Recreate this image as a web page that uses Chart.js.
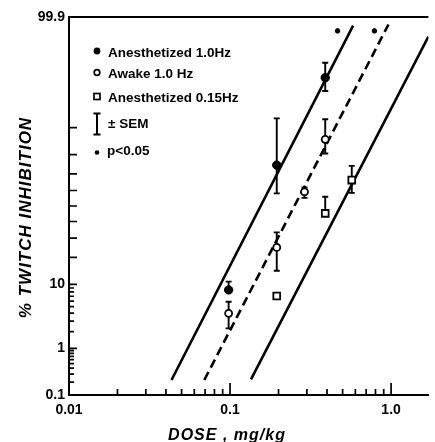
<!DOCTYPE html>
<html><head><meta charset="utf-8">
<script src="https://cdn.jsdelivr.net/npm/chart.js@4.4.0/dist/chart.umd.min.js"></script>
<style>html,body{margin:0;padding:0;background:#fff}#c{display:block}</style>
</head><body>
<canvas id="c" width="435" height="442"></canvas>
<script>
// ---------------- data ----------------
const xTickValues = [0.01,0.02,0.03,0.04,0.05,0.06,0.07,0.08,0.09,0.1,0.2,0.3,0.4,0.5,0.6,0.7,0.8,0.9,1.0];
const xMajorValues = [0.01,0.1,1.0];
const xLabelValues = [0.01,0.1,1.0];
const xLabelTexts = ['0.01','0.1','1.0'];

const yTickValues = [0.1,0.2,0.3,0.4,0.5,0.6,0.7,0.8,0.9,1,2,3,4,5,6,7,8,9,10,20,30,40,50,60,70,80,90,99.9];
const yMajorValues = [1,10,20,30,40,50,60,70,80,90];
const yLabelValues = [0.1,1,10,99.9];
const yLabelTexts = ['0.1','1','10','99.9'];

// Anesthetized 1.0 Hz (filled circles)
const anesDose = [0.098, 0.195, 0.39];
const anesPct  = [8.5, 74.8, 98.2];
const anesLow  = [8.5, 58.2, 97.0];
const anesHigh = [10.8, 92.4, 99.04];

// Awake 1.0 Hz (open circles)
const awakeDose = [0.098, 0.195, 0.29, 0.39];
const awakePct  = [3.96, 24.9, 59.2, 86.2];
const awakeLow  = [2.27, 14.5, 55.3, 80.5];
const awakeHigh = [5.87, 33.3, 61.9, 92.2];

// Anesthetized 0.15 Hz (open squares)
const slowDose = [0.195, 0.39, 0.57];
const slowPct  = [7.05, 45.2, 66.4];
const slowLow  = [6.5, 45.2, 58.5];
const slowHigh = [7.7, 56.0, 74.4];

// p < 0.05 markers
const sigDose = [0.465, 0.788];
const sigPct  = [99.79, 99.79];

// fitted log-probit lines (end points)
const fitAnesDose  = [0.0433, 0.581];
const fitAnesPct   = [0.222, 99.84];
const fitAwakeDose = [0.0692, 0.963];
const fitAwakePct  = [0.222, 99.85];
const fitSlowDose  = [0.1349, 1.705];
const fitSlowPct   = [0.23, 99.72];

const xMin = 0.01, xMax = 1.705, yMin = 0.1, yMax = 99.9;

// ---------------- probit scale ----------------
function probit(p){
  const a=[-3.969683028665376e+01,2.209460984245205e+02,-2.759285104469687e+02,1.383577518672690e+02,-3.066479806614716e+01,2.506628277459239e+00];
  const b=[-5.447609879822406e+01,1.615858368580409e+02,-1.556989798598866e+02,6.680131188771972e+01,-1.328068155288572e+01];
  const c=[-7.784894002430293e-03,-3.223964580411365e-01,-2.400758277161838e+00,-2.549732539343734e+00,4.374664141464968e+00,2.938163982698783e+00];
  const d=[7.784695709041462e-03,3.224671290700398e-01,2.445134137142996e+00,3.754408661907416e+00];
  const pl=0.02425, ph=1-pl; let q,r;
  if(p<pl){q=Math.sqrt(-2*Math.log(p));return (((((c[0]*q+c[1])*q+c[2])*q+c[3])*q+c[4])*q+c[5])/((((d[0]*q+d[1])*q+d[2])*q+d[3])*q+1);}
  if(p<=ph){q=p-0.5;r=q*q;return (((((a[0]*r+a[1])*r+a[2])*r+a[3])*r+a[4])*r+a[5])*q/(((((b[0]*r+b[1])*r+b[2])*r+b[3])*r+b[4])*r+1);}
  q=Math.sqrt(-2*Math.log(1-p));return -(((((c[0]*q+c[1])*q+c[2])*q+c[3])*q+c[4])*q+c[5])/((((d[0]*q+d[1])*q+d[2])*q+d[3])*q+1);
}
function phi(z){
  const x=Math.abs(z)/Math.SQRT2, t=1/(1+0.3275911*x);
  const e=1-(((((1.061405429*t-1.453152027)*t)+1.421413741)*t-0.284496736)*t+0.254829592)*t*Math.exp(-x*x);
  return 0.5*(1+(z<0?-e:e));
}
class ProbitScale extends Chart.Scale {
  static id = 'probit';
  static defaults = {};
  determineDataLimits(){ this.min = this.options.min; this.max = this.options.max; }
  buildTicks(){ return []; }
  getLabelForValue(v){ return String(v); }
  configure(){
    super.configure();
    this._zmin = probit(this.min/100);
    this._zrange = probit(this.max/100) - this._zmin;
  }
  getPixelForValue(v){
    if (v === null || v === undefined || isNaN(v)) return NaN;
    return this.getPixelForDecimal((probit(v/100) - this._zmin)/this._zrange);
  }
  getValueForPixel(p){ return 100*phi(this._zmin + this.getDecimalForPixel(p)*this._zrange); }
}
Chart.register(ProbitScale);

// ---------------- helpers ----------------
const pts = (xs, ys) => xs.map((v,i)=>({x:v, y:ys[i]}));
const TICK_FONT = {family:'"Liberation Sans", Arial, sans-serif', size:14, weight:'bold'};
const LEG_FONT = 'bold 13.5px "Liberation Sans", Arial, sans-serif';

const errorBars = {
  id:'errorBars',
  beforeDatasetsDraw(chart){
    const {ctx, scales:{x,y}} = chart;
    ctx.save(); ctx.strokeStyle='#000'; ctx.lineWidth=1.9;
    const draw=(ds,lo,hi)=>ds.forEach((d,i)=>{
      const px=x.getPixelForValue(d), pl=y.getPixelForValue(lo[i]), ph=y.getPixelForValue(hi[i]);
      ctx.beginPath(); ctx.moveTo(px,pl); ctx.lineTo(px,ph);
      ctx.moveTo(px-3,ph); ctx.lineTo(px+3,ph);
      ctx.moveTo(px-3,pl); ctx.lineTo(px+3,pl);
      ctx.stroke();
    });
    draw(anesDose,anesLow,anesHigh);
    draw(awakeDose,awakeLow,awakeHigh);
    draw(slowDose,slowLow,slowHigh);
    ctx.restore();
  }
};

const frame = {
  id:'frame',
  afterDraw(chart){
    const {ctx, chartArea:a, scales:{x,y}} = chart;
    ctx.save(); ctx.strokeStyle='#000';
    // top line
    ctx.lineWidth=2; ctx.beginPath(); ctx.moveTo(a.left,a.top); ctx.lineTo(a.right,a.top); ctx.stroke();
    // inward ticks
    ctx.lineWidth=1.7; ctx.beginPath();
    x.ticks.forEach(t=>{
      const px=x.getPixelForValue(t.value), L=xMajorValues.includes(t.value)?12:6;
      ctx.moveTo(px,a.bottom); ctx.lineTo(px,a.bottom-L);
    });
    y.ticks.forEach(t=>{
      const py=y.getPixelForValue(t.value), L=yMajorValues.includes(t.value)?8:5;
      ctx.moveTo(a.left,py); ctx.lineTo(a.left+L,py);
    });
    ctx.stroke();
    // axis titles
    ctx.fillStyle='#000';
    ctx.font='italic bold 17px "Liberation Sans", Arial, sans-serif';
    if ('letterSpacing' in ctx) ctx.letterSpacing='1px';
    ctx.textAlign='center'; ctx.textBaseline='alphabetic';
    ctx.save(); ctx.translate(31,217.5); ctx.rotate(-Math.PI/2); ctx.fillText('% TWITCH INHIBITION',0,0); ctx.restore();
    ctx.font='italic bold 16px "Liberation Sans", Arial, sans-serif';
    ctx.fillText('DOSE , mg/kg',227,439.5);
    if ('letterSpacing' in ctx) ctx.letterSpacing='0px';
    // legend
    ctx.font=LEG_FONT; ctx.textAlign='left';
    ctx.beginPath(); ctx.arc(97,51,3.4,0,Math.PI*2); ctx.fill();
    ctx.fillText('Anesthetized 1.0Hz',108,56.5);
    ctx.lineWidth=1.7;
    ctx.beginPath(); ctx.arc(97,72.5,2.8,0,Math.PI*2); ctx.stroke();
    ctx.fillText('Awake 1.0 Hz',108,77.5);
    ctx.strokeRect(94,93.5,6,6);
    ctx.fillText('Anesthetized 0.15Hz',108,101.5);
    ctx.lineWidth=2; ctx.beginPath();
    ctx.moveTo(97,113.5); ctx.lineTo(97,134.5); ctx.moveTo(93.5,113.5); ctx.lineTo(100.5,113.5); ctx.moveTo(93.5,134.5); ctx.lineTo(100.5,134.5); ctx.stroke();
    ctx.fillText('\u00B1 SEM',108,127.5);
    ctx.beginPath(); ctx.arc(97,152.5,2.3,0,Math.PI*2); ctx.fill();
    ctx.fillText('p<0.05',107,154.5);
    ctx.restore();
  }
};

new Chart(document.getElementById('c'), {
  type:'scatter',
  data:{datasets:[
    {label:'Anesthetized 1.0Hz', data:pts(anesDose,anesPct), pointStyle:'circle', pointRadius:4.2, backgroundColor:'#000', borderColor:'#000', borderWidth:1, order:0},
    {label:'Awake 1.0 Hz', data:pts(awakeDose,awakePct), pointStyle:'circle', pointRadius:3.5, backgroundColor:'#fff', borderColor:'#000', borderWidth:1.8, order:0},
    {label:'Anesthetized 0.15Hz', data:pts(slowDose,slowPct), pointStyle:'rect', pointRadius:4.8, backgroundColor:'#fff', borderColor:'#000', borderWidth:1.8, order:0},
    {label:'p<0.05', data:pts(sigDose,sigPct), pointStyle:'star', pointRadius:2.6, backgroundColor:'#000', borderColor:'#000', borderWidth:2.4, order:0},
    {label:'fit anesthetized 1.0Hz', data:pts(fitAnesDose,fitAnesPct), showLine:true, pointRadius:0, borderColor:'#000', borderWidth:2.6, order:1},
    {label:'fit awake 1.0Hz', data:pts(fitAwakeDose,fitAwakePct), showLine:true, pointRadius:0, borderColor:'#000', borderWidth:2.6, borderDash:[9,5], order:1},
    {label:'fit anesthetized 0.15Hz', data:pts(fitSlowDose,fitSlowPct), showLine:true, pointRadius:0, borderColor:'#000', borderWidth:2.6, order:1}
  ]},
  options:{
    responsive:false, animation:false, devicePixelRatio:1, events:[],
    layout:{padding:{top:17,left:0,right:0,bottom:0}},
    plugins:{legend:{display:false}, tooltip:{enabled:false}},
    scales:{
      x:{type:'logarithmic', position:'bottom', min:xMin, max:xMax,
        afterBuildTicks:(ax)=>{ ax.ticks = xTickValues.map(v=>({value:v})); },
        afterFit:(s)=>{ s.height = 47; },
        grid:{display:false, drawTicks:false},
        border:{display:true, color:'#000', width:2},
        ticks:{autoSkip:false, maxRotation:0, padding:7, color:'#000', font:TICK_FONT,
          callback:(v)=>{ const i=xLabelValues.indexOf(v); return i<0?'':xLabelTexts[i]; }},
        title:{display:false}
      },
      y:{type:'probit', position:'left', min:yMin, max:yMax,
        afterBuildTicks:(ax)=>{ ax.ticks = yTickValues.map(v=>({value:v})); },
        afterFit:(s)=>{ s.width = 69; },
        grid:{display:false, drawTicks:false},
        border:{display:true, color:'#000', width:2},
        ticks:{autoSkip:false, padding:4, color:'#000', font:TICK_FONT,
          callback:(v)=>{ const i=yLabelValues.indexOf(v); return i<0?'':yLabelTexts[i]; }},
        title:{display:false}
      }
    }
  },
  plugins:[errorBars, frame]
});
</script>
</body></html>
